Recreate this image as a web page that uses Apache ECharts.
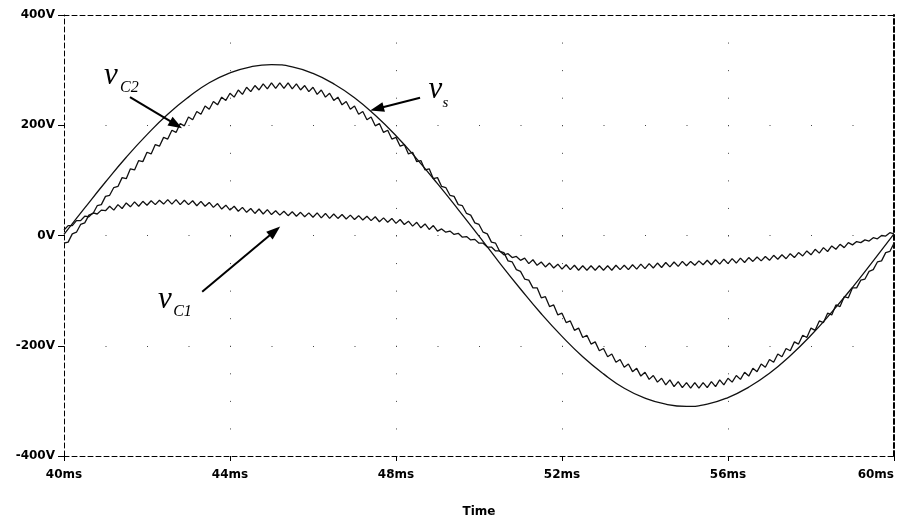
<!DOCTYPE html>
<html>
<head>
<meta charset="utf-8">
<script src="https://cdn.jsdelivr.net/npm/echarts@6/dist/echarts.min.js"></script>
<style>
  html, body { margin: 0; padding: 0; background: #fff; }
  #chart { width: 898px; height: 527px; }
</style>
</head>
<body>
<div id="chart"></div>
<script>
// Simulation samples, 0.1 ms apart (ms)
const sampleTimesMs = [
  40.0,40.1,40.2,40.3,40.4,40.5,40.6,40.7,40.8,40.9,
  41.0,41.1,41.2,41.3,41.4,41.5,41.6,41.7,41.8,41.9,
  42.0,42.1,42.2,42.3,42.4,42.5,42.6,42.7,42.8,42.9,
  43.0,43.1,43.2,43.3,43.4,43.5,43.6,43.7,43.8,43.9,
  44.0,44.1,44.2,44.3,44.4,44.5,44.6,44.7,44.8,44.9,
  45.0,45.1,45.2,45.3,45.4,45.5,45.6,45.7,45.8,45.9,
  46.0,46.1,46.2,46.3,46.4,46.5,46.6,46.7,46.8,46.9,
  47.0,47.1,47.2,47.3,47.4,47.5,47.6,47.7,47.8,47.9,
  48.0,48.1,48.2,48.3,48.4,48.5,48.6,48.7,48.8,48.9,
  49.0,49.1,49.2,49.3,49.4,49.5,49.6,49.7,49.8,49.9,
  50.0,50.1,50.2,50.3,50.4,50.5,50.6,50.7,50.8,50.9,
  51.0,51.1,51.2,51.3,51.4,51.5,51.6,51.7,51.8,51.9,
  52.0,52.1,52.2,52.3,52.4,52.5,52.6,52.7,52.8,52.9,
  53.0,53.1,53.2,53.3,53.4,53.5,53.6,53.7,53.8,53.9,
  54.0,54.1,54.2,54.3,54.4,54.5,54.6,54.7,54.8,54.9,
  55.0,55.1,55.2,55.3,55.4,55.5,55.6,55.7,55.8,55.9,
  56.0,56.1,56.2,56.3,56.4,56.5,56.6,56.7,56.8,56.9,
  57.0,57.1,57.2,57.3,57.4,57.5,57.6,57.7,57.8,57.9,
  58.0,58.1,58.2,58.3,58.4,58.5,58.6,58.7,58.8,58.9,
  59.0,59.1,59.2,59.3,59.4,59.5,59.6,59.7,59.8,59.9,
  60.0
];

// Capacitor C2 voltage (V)
const vC2Volts = [
  -14,-12,3,6,20,23,37,40,54,56,
  71,73,87,89,105,103,121,119,136,134,
  151,148,165,162,178,175,191,187,203,199,
  215,210,225,220,235,229,243,237,251,245,
  258,251,264,256,269,261,272,264,275,266,
  277,267,277,267,277,266,275,264,272,261,
  269,256,264,251,258,245,251,237,243,229,
  235,220,225,210,215,199,203,187,191,175,
  178,162,165,148,151,134,136,119,121,103,
  105,89,87,73,71,56,54,40,37,23,
  20,6,3,-12,-14,-29,-31,-46,-48,-62,
  -65,-79,-81,-95,-95,-113,-111,-129,-126,-144,
  -141,-158,-155,-172,-168,-185,-181,-197,-193,-209,
  -205,-220,-215,-230,-225,-239,-233,-247,-241,-255,
  -248,-261,-254,-266,-259,-271,-262,-274,-265,-276,
  -267,-277,-267,-277,-267,-276,-265,-274,-262,-271,
  -259,-266,-254,-261,-248,-255,-241,-247,-233,-239,
  -225,-230,-215,-220,-205,-209,-193,-197,-181,-185,
  -168,-172,-155,-158,-141,-144,-126,-129,-111,-113,
  -95,-95,-81,-79,-65,-62,-48,-46,-31,-29,
  -14
];

// Capacitor C1 voltage (V)
const vC1Volts = [
  10,18,18,27,27,35,34,41,39,46,
  45,53,46,56,49,59,52,61,53,62,
  55,63,56,64,57,65,57,65,56,64,
  56,63,54,62,53,60,51,58,48,55,
  46,53,44,51,42,49,40,48,39,47,
  38,45,37,44,36,43,35,42,34,41,
  33,41,32,40,31,39,31,38,30,37,
  29,36,28,35,27,34,25,32,24,31,
  22,29,20,26,17,24,14,21,11,18,
  8,12,6,8,2,4,-3,-2,-8,-7,
  -14,-14,-21,-21,-28,-28,-35,-33,-40,-38,
  -45,-41,-51,-44,-54,-48,-57,-50,-59,-52,
  -61,-53,-62,-54,-63,-55,-63,-55,-63,-55,
  -63,-55,-63,-54,-62,-54,-62,-53,-61,-52,
  -60,-51,-59,-50,-58,-49,-57,-48,-56,-47,
  -55,-47,-54,-46,-53,-45,-53,-44,-52,-43,
  -51,-42,-50,-41,-49,-40,-47,-39,-46,-38,
  -45,-36,-43,-35,-42,-33,-40,-31,-37,-28,
  -35,-25,-32,-22,-29,-19,-25,-16,-22,-13,
  -17,-11,-13,-8,-10,-4,-6,0,-1,5,
  3
];

// Source voltage, 0.5 ms apart
const vsTimesMs = [
  40,40.5,41,41.5,42,42.5,43,43.5,44,44.5,
  45,45.5,46,46.5,47,47.5,48,48.5,49,49.5,
  50,50.5,51,51.5,52,52.5,53,53.5,54,54.5,
  55,55.5,56,56.5,57,57.5,58,58.5,59,59.5,
  60
];
const vsVolts = [
  2,50,97,142,183,220,251,277,295,306,
  310,306,294,275,250,218,181,139,94,47,
  -1,-50,-97,-142,-183,-220,-251,-277,-295,-306,
  -310,-306,-294,-275,-250,-218,-181,-139,-94,-46,
  3
];

// Curve name tags: glyph, subscript, anchor points in (ms, V)
const curveTags = [
  { main: 'v', sub: 'C2', mainAt: [41.13, 290], subAt: [41.35, 268] },
  { main: 'v', sub: 's',  mainAt: [48.95, 265], subAt: [49.12, 240] },
  { main: 'v', sub: 'C1', mainAt: [42.43, -116], subAt: [42.63, -138] }
];
// Pointer arrows: tail -> head in (ms, V)
const pointerArrows = [
  [[41.59, 251], [42.70, 201]],
  [[48.58, 250], [47.54, 230]],
  [[43.33, -102], [45.08, 8]]
];

const axisFont = { fontFamily: 'DejaVu Sans', fontWeight: 'bold', fontSize: 12, color: '#000' };
const frameLine = { color: '#000', width: 1, type: [5, 3] };
const traceLine = { color: '#111', width: 1.3 };

const toPairs = (ts, vs) => ts.map((t, i) => [t, vs[i]]);

const chart = echarts.init(document.getElementById('chart'), null, { renderer: 'canvas' });

chart.setOption({
  animation: false,
  backgroundColor: '#fff',
  grid: { left: 64, right: 4, top: 15, bottom: 71, containLabel: false },
  xAxis: [
    {
      type: 'value', min: 40, max: 60, interval: 4, position: 'bottom',
      axisLine: { onZero: false, lineStyle: frameLine },
      axisTick: { show: true, length: 5, lineStyle: { color: '#000' } },
      axisLabel: Object.assign({}, axisFont, { margin: 13, formatter: v => v + 'ms', alignMaxLabel: 'right' }),
      splitLine: { show: true, showMinLine: false, showMaxLine: false,
        lineStyle: { color: '#444', width: 1, type: [1, 26.5625] } },
      name: 'Time', nameLocation: 'middle', nameGap: 50,
      nameTextStyle: Object.assign({}, axisFont)
    },
    {
      type: 'value', min: 40, max: 60, position: 'top',
      axisLine: { onZero: false, lineStyle: frameLine },
      axisTick: { show: false }, axisLabel: { show: false }, splitLine: { show: false }
    }
  ],
  yAxis: [
    {
      type: 'value', min: -400, max: 400, interval: 200, position: 'left',
      axisLine: { onZero: false, lineStyle: frameLine },
      axisTick: { show: true, length: 6, lineStyle: { color: '#000' } },
      axisLabel: Object.assign({}, axisFont, { margin: 9, formatter: v => v + 'V' }),
      splitLine: { show: true, showMinLine: false, showMaxLine: false,
        lineStyle: { color: '#444', width: 1, type: [1, 40.5] } }
    },
    {
      type: 'value', min: -400, max: 400, position: 'right',
      axisLine: { onZero: false, lineStyle: { color: '#000', width: 2, type: [5, 3] } },
      axisTick: { show: false }, axisLabel: { show: false }, splitLine: { show: false }
    }
  ],
  series: [
    {
      name: 'vs', type: 'line', smooth: true, showSymbol: false,
      data: toPairs(vsTimesMs, vsVolts), lineStyle: traceLine, silent: true,
      markLine: {
        silent: true, animation: false,
        symbol: ['none', 'triangle'], symbolSize: [10, 14],
        lineStyle: { color: '#000', width: 2, type: 'solid' },
        label: { show: false },
        data: pointerArrows.map(a => [{ coord: a[0] }, { coord: a[1] }])
      }
    },
    {
      name: 'vC2', type: 'line', showSymbol: false,
      data: toPairs(sampleTimesMs, vC2Volts), lineStyle: traceLine, silent: true
    },
    {
      name: 'vC1', type: 'line', showSymbol: false,
      data: toPairs(sampleTimesMs, vC1Volts), lineStyle: traceLine, silent: true
    }
  ]
});

// Italic curve names placed in data space
const px = p => chart.convertToPixel({ gridIndex: 0 }, p);
const tagGraphics = [];
curveTags.forEach(tag => {
  const m = px(tag.mainAt), s = px(tag.subAt);
  tagGraphics.push({
    type: 'text', x: m[0], y: m[1], silent: true,
    style: { text: tag.main, fontFamily: 'Liberation Serif', fontStyle: 'italic',
      fontSize: 31, fill: '#000', align: 'center', verticalAlign: 'middle' }
  });
  tagGraphics.push({
    type: 'text', x: s[0], y: s[1], silent: true,
    style: { text: tag.sub, fontFamily: 'Liberation Serif', fontStyle: 'italic',
      fontSize: tag.sub.length > 1 ? 16 : 15, fill: '#000', align: 'left', verticalAlign: 'middle' }
  });
});
chart.setOption({ graphic: tagGraphics });
</script>
</body>
</html>
